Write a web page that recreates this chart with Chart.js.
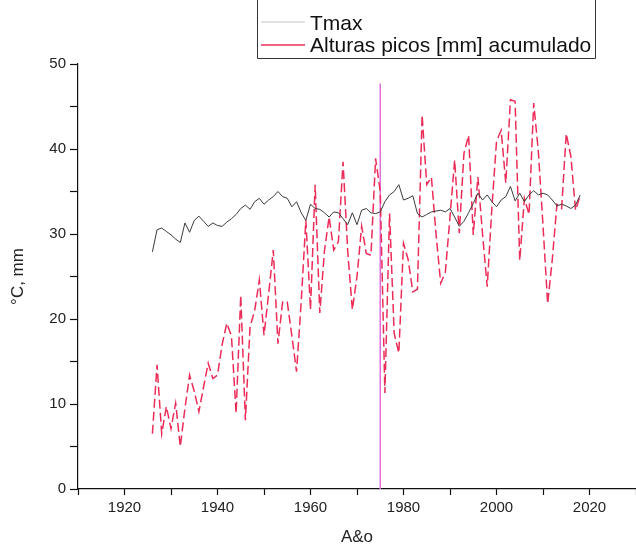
<!DOCTYPE html>
<html>
<head>
<meta charset="utf-8">
<script src="https://cdn.jsdelivr.net/npm/chart.js@4.4.1/dist/chart.umd.min.js"></script>
<style>
  html, body { margin: 0; padding: 0; background: #fff; }
  #chart { display: block; }
</style>
</head>
<body>
<canvas id="chart" width="636" height="549"></canvas>
<script>
// Años de la serie
const years = [
  1926, 1927, 1928, 1929, 1930, 1931, 1932, 1933, 1934, 1935,
  1936, 1937, 1938, 1939, 1940, 1941, 1942, 1943, 1944, 1945,
  1946, 1947, 1948, 1949, 1950, 1951, 1952, 1953, 1954, 1955,
  1956, 1957, 1958, 1959, 1960, 1961, 1962, 1963, 1964, 1965,
  1966, 1967, 1968, 1969, 1970, 1971, 1972, 1973, 1974, 1975,
  1976, 1977, 1978, 1979, 1980, 1981, 1982, 1983, 1984, 1985,
  1986, 1987, 1988, 1989, 1990, 1991, 1992, 1993, 1994, 1995,
  1996, 1997, 1998, 1999, 2000, 2001, 2002, 2003, 2004, 2005,
  2006, 2007, 2008, 2009, 2010, 2011, 2012, 2013, 2014, 2015,
  2016, 2017, 2018
];

// Temperatura máxima (°C)
const tmax = [
  27.9, 30.5, 30.7, 30.3, 29.9, 29.4, 29.0, 31.3, 30.2, 31.6,
  32.1, 31.5, 30.9, 31.3, 31.0, 30.9, 31.4, 31.8, 32.3, 33.0,
  33.4, 32.9, 33.8, 34.2, 33.5, 34.0, 34.4, 35.0, 34.4, 34.2,
  33.2, 33.8, 32.5, 31.6, 33.5, 33.0, 32.9, 32.5, 32.0, 32.6,
  32.5, 31.8, 31.1, 32.5, 31.1, 32.8, 33.0, 32.5, 32.4, 32.6,
  33.8, 34.6, 35.0, 35.8, 34.0, 34.2, 34.5, 32.4, 32.0, 32.3,
  32.6, 32.7, 32.8, 32.6, 33.0, 32.0, 30.9, 31.5, 32.5, 33.6,
  34.8, 34.0, 34.6, 33.8, 33.2, 34.0, 34.4, 35.6, 33.9, 34.8,
  33.8, 34.6, 35.1, 34.6, 34.8, 34.6, 34.0, 33.3, 33.5, 33.3,
  33.0, 33.4, 34.6
];

// Alturas picos acumuladas (mm)
const alturas = [
  6.5, 14.6, 6.5, 9.7, 7.1, 10.1, 5.0, 9.5, 13.4, 11.5,
  9.1, 12.0, 14.8, 13.0, 13.4, 17.0, 19.5, 18.0, 8.9, 22.8,
  8.1, 19.1, 21.0, 24.6, 18.1, 23.0, 28.1, 17.1, 22.0, 22.0,
  18.0, 13.8, 22.0, 31.6, 21.1, 35.8, 20.7, 28.0, 32.0, 28.1,
  29.1, 38.5, 28.0, 21.1, 25.0, 30.9, 27.7, 27.5, 38.9, 35.0,
  11.3, 32.4, 18.3, 16.0, 28.9, 27.0, 23.2, 23.5, 44.0, 35.8,
  36.7, 30.0, 24.2, 25.5, 32.0, 38.7, 30.1, 39.5, 41.6, 29.9,
  36.7, 30.0, 23.8, 33.0, 40.9, 42.2, 36.0, 45.8, 45.6, 26.9,
  34.2, 32.3, 45.4, 39.7, 31.0, 21.8, 27.0, 33.5, 33.0, 41.8,
  39.1, 32.8, 34.5
];

// Línea vertical de referencia
const markerYear = 1975;
const markerTop = 47.7;

const seriesNames = ['Tmax', 'Alturas picos [mm] acumulado'];

const FONT = "'Liberation Sans', Arial, sans-serif";
const RED = 'rgb(236, 44, 88)';

const toPoints = (vals) => years.map((yr, i) => ({ x: yr, y: vals[i] }));

// Leyenda dibujada a mano en la parte superior
const legendBox = {
  id: 'legendBox',
  afterDraw(chart) {
    const ctx = chart.ctx;
    ctx.save();
    ctx.strokeStyle = '#333';
    ctx.lineWidth = 1;
    ctx.beginPath();
    ctx.moveTo(257.5, 0);
    ctx.lineTo(257.5, 58.5);
    ctx.lineTo(595.5, 58.5);
    ctx.lineTo(595.5, 0);
    ctx.stroke();

    ctx.lineWidth = 1.2;
    ctx.strokeStyle = '#c4c4c4';
    ctx.beginPath();
    ctx.moveTo(261, 22);
    ctx.lineTo(305, 22);
    ctx.stroke();
    ctx.strokeStyle = RED;
    ctx.lineWidth = 1.6;
    ctx.beginPath();
    ctx.moveTo(261, 45);
    ctx.lineTo(305, 45);
    ctx.stroke();

    ctx.fillStyle = '#111';
    ctx.font = '21px ' + FONT;
    ctx.textBaseline = 'alphabetic';
    ctx.fillText(seriesNames[0], 310, 30);
    ctx.fillText(seriesNames[1], 310, 52);
    ctx.restore();
  }
};

new Chart(document.getElementById('chart').getContext('2d'), {
  type: 'line',
  data: {
    datasets: [
      {
        label: seriesNames[0],
        data: toPoints(tmax),
        borderColor: '#3a3a3a',
        borderWidth: 1,
        pointRadius: 0,
        tension: 0
      },
      {
        label: seriesNames[1],
        data: toPoints(alturas),
        borderColor: RED,
        borderWidth: 1.5,
        borderDash: [9, 4],
        pointRadius: 0,
        tension: 0
      },
      {
        label: 'marker',
        data: [{ x: markerYear, y: 0 }, { x: markerYear, y: markerTop }],
        borderColor: '#e070d8',
        borderWidth: 1.5,
        pointRadius: 0
      }
    ]
  },
  options: {
    responsive: false,
    animation: false,
    layout: { padding: { top: 64, right: 0, left: 0, bottom: 0 } },
    plugins: {
      legend: { display: false },
      tooltip: { enabled: false }
    },
    scales: {
      x: {
        type: 'linear',
        min: 1910,
        max: 2030,
        afterFit: (s) => { s.height = 60; s.paddingLeft = 0; s.paddingRight = 0; },
        border: { color: '#111', width: 1.2 },
        grid: { drawOnChartArea: false, drawTicks: true, tickLength: 6, tickColor: '#111', tickWidth: 1.2 },
        ticks: {
          stepSize: 10,
          autoSkip: false,
          maxRotation: 0,
          padding: 4,
          color: '#222',
          font: { family: FONT, size: 15 },
          callback: (v) => (v % 20 === 0 ? String(v) : '')
        },
        title: {
          display: true,
          text: 'A&o',
          color: '#222',
          font: { family: FONT, size: 17 },
          padding: { top: 0, bottom: 1 }
        }
      },
      y: {
        min: 0,
        max: 50,
        afterFit: (s) => { s.width = 78; },
        border: { color: '#111', width: 1.2 },
        grid: { drawOnChartArea: false, drawTicks: true, tickLength: 8, tickColor: '#111', tickWidth: 1.2 },
        ticks: {
          stepSize: 5,
          autoSkip: false,
          padding: 4,
          color: '#222',
          font: { family: FONT, size: 15 },
          callback: (v) => (v % 10 === 0 ? String(v) : '')
        },
        title: {
          display: true,
          text: '°C, mm',
          color: '#222',
          font: { family: FONT, size: 17 },
          padding: { top: 8, bottom: 0 }
        }
      }
    }
  },
  plugins: [legendBox]
});
</script>
</body>
</html>
